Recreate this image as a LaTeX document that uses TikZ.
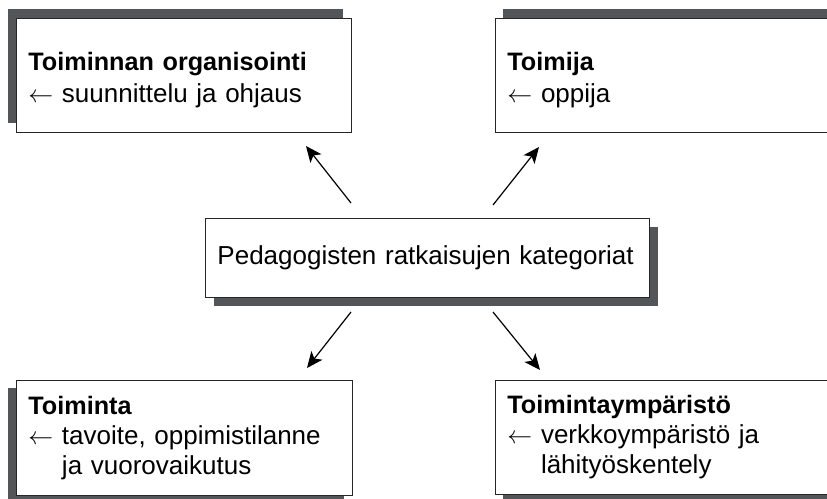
\documentclass[tikz,border=0pt]{standalone}
\usepackage{fontspec}
\setmainfont{Liberation Sans}
\usetikzlibrary{arrows.meta}
\definecolor{shadowgray}{RGB}{82,86,89}
\newcommand{\ttl}[1]{{\fontsize{25.2}{30}\selectfont\bfseries #1}}
\tikzset{
  shadowrect/.style={fill=shadowgray, draw=none},
  box/.style={draw=black!85, line width=0.9pt, fill=white, anchor=north west,
    align=left, inner xsep=12pt, inner ysep=0pt, font=\fontsize{26}{30}\selectfont},
  topbox/.style={box, font=\fontsize{26}{32}\selectfont},
  link/.style={line width=1.2pt, -{Stealth[length=16pt,width=14pt,inset=4pt]}}
}
\begin{document}
\begin{tikzpicture}[x=1pt,y=-1pt]
\useasboundingbox (0,0) rectangle (827,498);
\clip (0,0) rectangle (827,498);
\fill[white] (0,0) rectangle (827,498);

% shadows
\fill[shadowrect] (8,9) rectangle (343,123);
\fill[shadowrect] (503,9) rectangle (848,123);
\fill[shadowrect] (214,227) rectangle (658,306);
\fill[shadowrect] (8,388) rectangle (344,503);
\fill[shadowrect] (503,388) rectangle (848,502);

% boxes
\node[topbox, minimum width=335pt, minimum height=114pt, text width=311pt] (org) at (16,18)
  {\rule{0pt}{28pt}\ttl{Toiminnan organisointi}\\$\leftarrow$ suunnittelu ja ohjaus};
\node[topbox, minimum width=345pt, minimum height=114pt, text width=321pt] (toimija) at (495,18)
  {\rule{0pt}{28pt}\ttl{Toimija}\\$\leftarrow$ oppija};
\node[box, minimum width=444pt, minimum height=79pt, text width=420pt] (center) at (205,218)
  {Pedagogisten ratkaisujen kategoriat};
\node[box, minimum width=336pt, minimum height=115pt, text width=312pt] (toiminta) at (16,380)
  {\ttl{Toiminta}\\$\leftarrow$ tavoite, oppimistilanne\\\phantom{$\leftarrow$}\ ja vuorovaikutus};
\node[box, minimum width=345pt, minimum height=114pt, text width=321pt] (ymp) at (495,380)
  {\ttl{Toimintaympäristö}\\$\leftarrow$ verkkoympäristö ja\\\phantom{$\leftarrow$}\ lähityöskentely};

% arrows
\coordinate (a1s) at (351,203); \coordinate (a1e) at (306,146);
\coordinate (a2s) at (493,205); \coordinate (a2e) at (539,147);
\coordinate (a3s) at (351,312); \coordinate (a3e) at (307,368);
\coordinate (a4s) at (493,312); \coordinate (a4e) at (540,370);
\draw[link] (a1s) -- (a1e);
\draw[link] (a2s) -- (a2e);
\draw[link] (a3s) -- (a3e);
\draw[link] (a4s) -- (a4e);
\end{tikzpicture}
\end{document}
